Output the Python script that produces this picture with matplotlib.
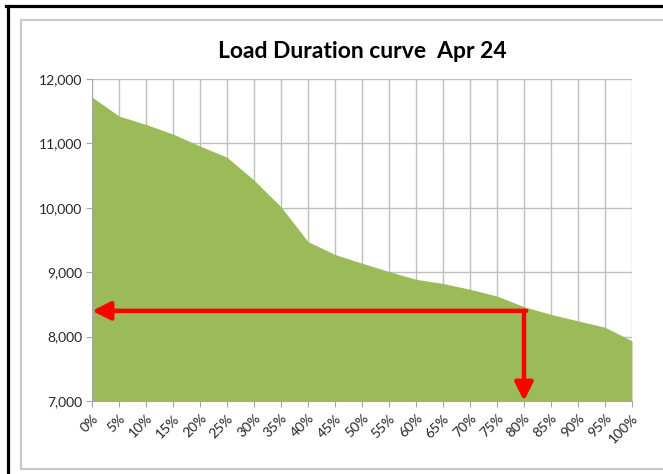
import matplotlib
matplotlib.use("Agg")
import matplotlib.pyplot as plt
from matplotlib.lines import Line2D

plt.rcParams['font.family'] = ['Lato', 'DejaVu Sans']

categories = ['0%', '5%', '10%', '15%', '20%', '25%', '30%', '35%', '40%', '45%', '50%',
              '55%', '60%', '65%', '70%', '75%', '80%', '85%', '90%', '95%', '100%']
load = [11720, 11425, 11295, 11145, 10960, 10785, 10430, 10015, 9475, 9275, 9140,
        9010, 8890, 8825, 8735, 8630, 8465, 8345, 8245, 8145, 7935]
y_ticks = [7000, 8000, 9000, 10000, 11000, 12000]
marker_pct = 16      # index of 80%
marker_load = 8400

fig = plt.figure(figsize=(6.63, 4.74), dpi=100)
ax = fig.add_axes([0.1388, 0.154, 0.8144, 0.6793])

x = list(range(len(categories)))
ax.fill_between(x, 7000, load, color='#9BBB59', linewidth=0, zorder=2)

ax.set_xlim(0, len(categories) - 1)
ax.set_ylim(7000, 12000)
ax.set_yticks(y_ticks)
ax.set_yticklabels([f'{v:,}' for v in y_ticks], fontsize=10, color='#262626')
ax.set_xticks(x)
ax.set_xticklabels(categories, rotation=45, ha='right', va='top', rotation_mode='anchor',
                   fontsize=10, color='#262626')
ax.grid(True, color='#BFBFBF', linewidth=1, zorder=1)
ax.set_axisbelow(True)
for s in ['top', 'right']:
    ax.spines[s].set_visible(False)
for s in ['left', 'bottom']:
    ax.spines[s].set_color('#A6A6A6')
    ax.spines[s].set_zorder(3)
ax.tick_params(axis='both', length=4, color='#A6A6A6', pad=3)
ax.tick_params(axis='x', pad=4)

ax.set_title('Load Duration curve  Apr 24', fontsize=16.5, fontweight='bold', pad=15)

# red arrows marking 80% duration
arrow_kw = dict(arrowstyle='-|>,head_length=1.1,head_width=0.55', color='#FF0000', lw=3.2,
                shrinkA=0, shrinkB=0, mutation_scale=10)
ax.annotate('', xy=(0, marker_load), xytext=(marker_pct + 0.08, marker_load),
            arrowprops=arrow_kw, annotation_clip=False, zorder=5)
ax.annotate('', xy=(marker_pct, 7000), xytext=(marker_pct, marker_load),
            arrowprops=arrow_kw, annotation_clip=False, zorder=5)

# frame lines around the chart
W, H = 663, 474
def fline(x0, y0, x1, y1, color, lw):
    fig.add_artist(Line2D([x0 / W, x1 / W], [1 - y0 / H, 1 - y1 / H],
                          transform=fig.transFigure, color=color, linewidth=lw))

fline(21, 20, 21, 469, '#C8C8C8', 1.5)
fline(21, 20, 663, 20, '#C8C8C8', 1.5)
fline(21, 469, 663, 469, '#C8C8C8', 1.5)
fline(7.5, 5.5, 7.5, 474, 'black', 2.3)
fline(6, 5.5, 663, 5.5, 'black', 2.3)

fig.savefig('out.png', dpi=100)
